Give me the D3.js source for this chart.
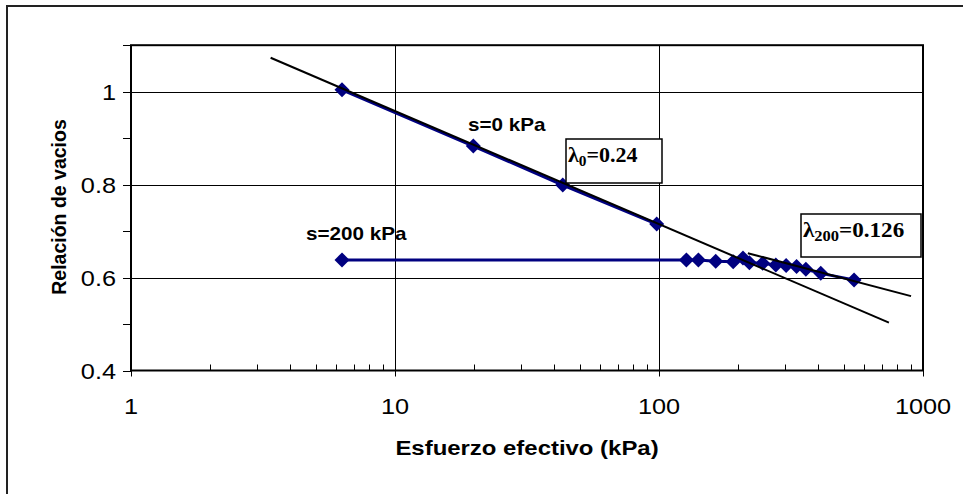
<!DOCTYPE html>
<html><head><meta charset="utf-8">
<script src="https://cdn.jsdelivr.net/npm/d3@7"></script>
<style>body{margin:0;background:#fff}svg{display:block}</style>
</head><body>
<script>
// ---- data ----
const xTicks = [1, 10, 100, 1000];
const yTicks = [0.4, 0.6, 0.8, 1.0];
const s0Stress = [6.3, 19.8, 43.2, 98];
const s0Void = [1.004, 0.883, 0.799, 0.715];
const s200Stress = [6.3, 127, 141, 164, 191, 208, 220, 247, 277, 303, 332, 360, 410, 548];
const s200Void = [0.638, 0.638, 0.638, 0.635, 0.634, 0.642, 0.632, 0.631, 0.627, 0.626, 0.624, 0.618, 0.609, 0.595];
const fit0Stress = [3.38, 743];
const fit0Void = [1.073, 0.503];
const fit200Stress = [217, 901];
const fit200Void = [0.6525, 0.560];

const W = 963, H = 494;
const L = 131, R = 923, T = 45.2, B = 370.5;
const SX = 1.15;

const svg = d3.select("body").append("svg").attr("width", W).attr("height", H);
const x = d3.scaleLog().domain([1, 1000]).range([L, R]);
const y = d3.scaleLinear().domain([0.4, 1.1]).range([B, T]);

// outer frame
svg.append("path").attr("d", `M7,${H+5} V6 H${W+5}`).attr("fill","none").attr("stroke","#222").attr("stroke-width",2);

// gridlines
const g = svg.append("g");
g.selectAll(".vg").data([10, 100]).join("line")
  .attr("x1", d => Math.round(x(d)) + 0.5).attr("x2", d => Math.round(x(d)) + 0.5)
  .attr("y1", T).attr("y2", B).attr("stroke", "#000").attr("stroke-width", 1);
g.selectAll(".hg").data([0.6, 0.8, 1.0]).join("line")
  .attr("y1", d => Math.round(y(d)) + 0.5).attr("y2", d => Math.round(y(d)) + 0.5)
  .attr("x1", L).attr("x2", R).attr("stroke", "#000").attr("stroke-width", 1);

// x minor ticks (inside, up)
const minor = [];
for (const dec of [1, 10, 100]) for (let k = 2; k <= 9; k++) minor.push(dec * k);
g.selectAll(".xm").data(minor).join("line")
  .attr("x1", d => Math.round(x(d)) + 0.5).attr("x2", d => Math.round(x(d)) + 0.5)
  .attr("y1", B - 6).attr("y2", B).attr("stroke", "#000");
// x major ticks
g.selectAll(".xM").data(xTicks).join("line")
  .attr("x1", d => Math.round(x(d)) + 0.5).attr("x2", d => Math.round(x(d)) + 0.5)
  .attr("y1", B - 5).attr("y2", B + 6).attr("stroke", "#000");
// y ticks every 0.1
const yt = d3.range(4, 12).map(v => v / 10);
g.selectAll(".yt").data(yt).join("line")
  .attr("y1", d => Math.round(y(d)) + 0.5).attr("y2", d => Math.round(y(d)) + 0.5)
  .attr("x1", L - 8).attr("x2", L).attr("stroke", "#000");

// plot frame
svg.append("rect").attr("x", L).attr("y", T).attr("width", R - L).attr("height", B - T)
  .attr("fill", "none").attr("stroke", "#000").attr("stroke-width", 2);

function stext(parent, tx, ty, str, opts) {
  const t = parent.append("text")
    .attr("transform", `translate(${tx},${ty}) scale(${opts.sx || SX},1)`)
    .attr("font-family", opts.family || "Arial, 'Liberation Sans', sans-serif")
    .attr("font-size", opts.size).attr("font-weight", opts.weight || "normal")
    .attr("text-anchor", opts.anchor || "start").attr("fill", "#000").text(str);
  return t;
}

// tick labels
xTicks.forEach(d => stext(svg, x(d), 414, String(d), {size: 22, anchor: "middle"}));
yTicks.forEach(d => stext(svg, 116, y(d) + 8, d3.format("~g")(d), {size: 22, anchor: "end"}));

// axis titles
stext(svg, 527, 455, "Esfuerzo efectivo (kPa)", {size: 21, weight: "bold", anchor: "middle", sx: 1.14});
svg.append("text").attr("transform", "translate(66,207) rotate(-90)")
  .attr("font-family", "Arial, 'Liberation Sans', sans-serif").attr("font-size", 19.5)
  .attr("font-weight", "bold").attr("text-anchor", "middle").text("Relación de vacios");

// series lines
const line = d3.line().x(d => x(d[0])).y(d => y(d[1]));
const s0 = d3.zip(s0Stress, s0Void), s200 = d3.zip(s200Stress, s200Void);
svg.append("path").attr("d", line(s0)).attr("fill", "none").attr("stroke", "#000080").attr("stroke-width", 3);
svg.append("path").attr("d", line(s200)).attr("fill", "none").attr("stroke", "#000080").attr("stroke-width", 3);

// markers
const dm = "M0,-7.5L7.5,0L0,7.5L-7.5,0Z";
svg.selectAll(".m").data(s0.concat(s200)).join("path")
  .attr("d", dm).attr("transform", d => `translate(${x(d[0])},${y(d[1])})`).attr("fill", "#000080");

// fit lines
svg.append("path").attr("d", line(d3.zip(fit0Stress, fit0Void))).attr("stroke", "#000").attr("stroke-width", 2).attr("fill", "none");
svg.append("path").attr("d", line(d3.zip(fit200Stress, fit200Void))).attr("stroke", "#000").attr("stroke-width", 2).attr("fill", "none");

// annotations
stext(svg, 468, 131, "s=0 kPa", {size: 17.5, weight: "bold", sx: 1.18});
stext(svg, 306, 240, "s=200 kPa", {size: 17.5, weight: "bold", sx: 1.18});

function lamBox(bx, by, bw, bh, sub, val, tx, ty, fs, ss) {
  svg.append("rect").attr("x", bx).attr("y", by).attr("width", bw).attr("height", bh)
    .attr("fill", "#fff").attr("stroke", "#000").attr("stroke-width", 1.5);
  const t = svg.append("text").attr("transform", `translate(${tx},${ty}) scale(1.1,1)`)
    .attr("font-family", "'Times New Roman', 'Liberation Serif', serif").attr("font-weight", "bold")
    .attr("font-size", fs);
  t.append("tspan").text("λ");
  t.append("tspan").attr("font-size", ss).attr("dy", 4).text(sub);
  t.append("tspan").attr("dy", -4).text("=" + val);
}
lamBox(566, 139, 96, 44, "0", "0.24", 568, 162, 20, 14);
lamBox(801, 214, 120, 43, "200", "0.126", 803, 237, 21, 15);
</script>
</body></html>
